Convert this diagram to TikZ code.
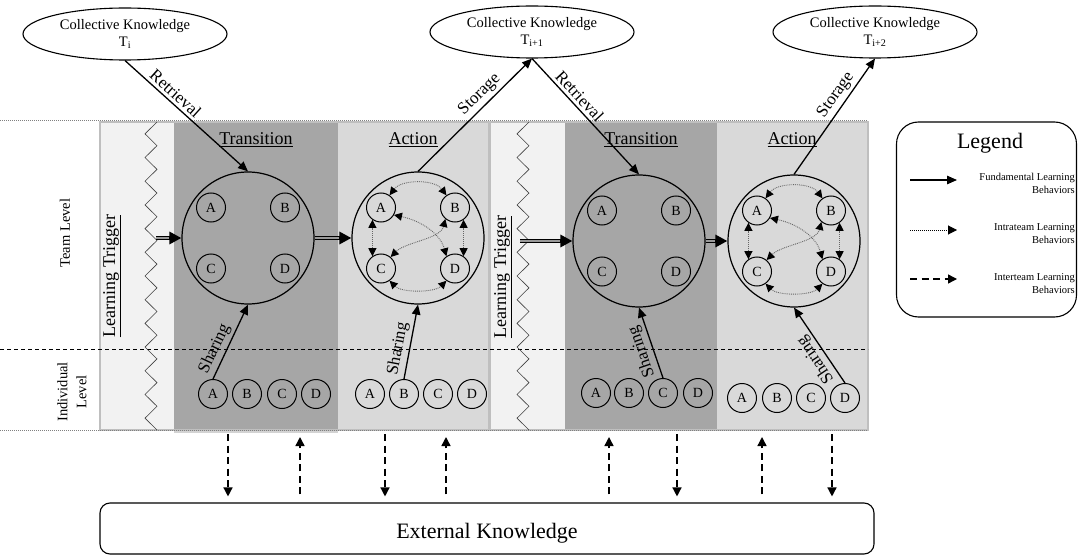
\documentclass[tikz,border=0pt]{standalone}
\usepackage{fontspec}
\setmainfont{Liberation Serif}
\usetikzlibrary{arrows.meta,shapes.geometric,shadows,calc}

\definecolor{trfill}{HTML}{A6A6A6}
\definecolor{acfill}{HTML}{D9D9D9}
\definecolor{ltfill}{HTML}{F2F2F2}
\definecolor{framegray}{HTML}{BFBFBF}

\begin{document}
\begin{tikzpicture}[x=1pt,y=1pt,
  every node/.style={inner sep=0pt},
  ellnode/.style={draw, ellipse, line width=1.1pt, minimum width=204pt, minimum height=52pt,
    align=center, font=\fontsize{14.5}{17}\selectfont},
  bigc/.style={draw, circle, line width=1.2pt, minimum size=132pt},
  smc/.style={draw, circle, line width=1pt, minimum size=29pt, font=\fontsize{14}{16}\selectfont},
  head/.style={font=\fontsize{18}{20}\selectfont},
  side/.style={font=\fontsize{14.5}{19}\selectfont, align=center, rotate=90},
  fund/.style={line width=1.3pt, -{Triangle[length=10pt,width=8.5pt]}},
  lbl/.style={font=\fontsize{17}{19}\selectfont, sloped, inner sep=3pt},
  intra/.style={draw=black!60, densely dotted, line width=0.9pt,
    {Triangle[length=8pt,width=8pt,color=black]}-{Triangle[length=8pt,width=8pt,color=black]}},
  inter/.style={line width=1.4pt, dash pattern=on 7pt off 4.5pt, -{Triangle[length=9pt,width=9pt]}},
  trigout/.style={line width=4pt, -{Triangle[length=12pt,width=12pt]}},
  trigin/.style={line width=1.6pt, draw=black!40, shorten >=12pt},
  zig/.style={black!75, line width=0.6pt},
  legtxt/.style={font=\fontsize{10.5}{13.5}\selectfont, align=right, anchor=north east},
]
\useasboundingbox (0,0) rectangle (1078,-556);

% ---------- phase panels ----------
\fill[ltfill] (100,-122) rectangle (175,-430);
\fill[acfill] (338,-122) rectangle (488,-430);
\fill[trfill, drop shadow={shadow xshift=0pt, shadow yshift=-2.5pt, opacity=0.35}]
  (174,-122) rectangle (338,-430);
\fill[framegray] (488,-122) rectangle (491,-430);
\fill[ltfill] (491,-122) rectangle (565,-430);
\fill[trfill] (565,-122) rectangle (717,-430);
\fill[acfill] (717,-122) rectangle (868,-430);
\draw[framegray, line width=1.5pt] (100,-122) rectangle (868,-430);

% level separators
\draw[gray, densely dotted, line width=1pt] (0,-121) -- (868,-121);
\draw[gray, densely dotted, line width=1pt] (0,-430.5) -- (868,-430.5);
\draw[line width=0.8pt, dash pattern=on 4pt off 3pt] (0,-349) -- (868,-349);

% trigger zigzags
\draw[zig] (157,-122) \foreach \k in {1,...,26}{ -- ({157-12*isodd(\k)},{-122-\k*11.846}) };
\draw[zig] (529,-122) \foreach \k in {1,...,26}{ -- ({529-12*isodd(\k)},{-122-\k*11.846}) };

% ---------- side labels and headings ----------
\node[side] (team) at (65,-233) {Team Level};
\node[side] (indiv) at (72,-392) {Individual\\Level};
\node[head, rotate=90] (lt1lbl) at (112,-276) {\underline{Learning Trigger}};
\node[head, rotate=90] (lt2lbl) at (503,-277) {\underline{Learning Trigger}};
\node[head] (h1) at (256,-140) {\underline{Transition}};
\node[head] (h2) at (413,-140) {\underline{Action}};
\node[head] (h3) at (641,-140) {\underline{Transition}};
\node[head] (h4) at (792,-140) {\underline{Action}};

% ---------- collective knowledge ----------
\node[ellnode] (ck1) at (125,-34) {Collective Knowledge\\T\textsubscript{i}};
\node[ellnode] (ck2) at (532,-32) {Collective Knowledge\\T\textsubscript{i+1}};
\node[ellnode] (ck3) at (875,-32) {Collective Knowledge\\T\textsubscript{i+2}};

% ---------- team circles ----------
\node[bigc] (t1) at (248,-238) {};
\node[bigc] (a1) at (418,-238) {};
\node[bigc] (t2) at (639,-241) {};
\node[bigc] (a2) at (794,-241) {};
\foreach \cc in {t1,a1,t2,a2} {
  \node[smc] (\cc A) at ($(\cc)+(-37,30.5)$) {A};
  \node[smc] (\cc B) at ($(\cc)+(37,30.5)$) {B};
  \node[smc] (\cc C) at ($(\cc)+(-37,-30.5)$) {C};
  \node[smc] (\cc D) at ($(\cc)+(37,-30.5)$) {D};
}

% intrateam exchanges inside the action circles
\foreach \cc in {a1,a2} {
  \draw[intra] (\cc A.55) .. controls +(12,16) and +(-12,16) .. (\cc B.125);
  \draw[intra] (\cc A.235) -- (\cc C.125);
  \draw[intra] (\cc B.-55) -- (\cc D.55);
  \draw[intra] (\cc C.-55) .. controls +(12,-12) and +(-12,-12) .. (\cc D.235);
  \draw[intra] (\cc A.-30) .. controls +(28,-6) and +(-6,22) .. (\cc D.125);
  \draw[intra] (\cc B.-130) .. controls +(-5,-20) and +(15,15) .. (\cc C.50);
}

% ---------- individual members ----------
\foreach \n/\x in {A/213,B/247,C/282,D/316} \node[smc] (it1\n) at (\x,-394) {\n};
\foreach \n/\x in {A/370,B/404,C/438,D/472} \node[smc] (ia1\n) at (\x,-394) {\n};
\foreach \n/\x in {A/596,B/629,C/663,D/698} \node[smc] (it2\n) at (\x,-393) {\n};
\foreach \n/\x in {A/742,B/777,C/811,D/845} \node[smc] (ia2\n) at (\x,-398) {\n};

% ---------- fundamental learning behaviours ----------
\draw[fund] (ck1.south) -- node[lbl, above, pos=0.36] {Retrieval} (t1.north);
\draw[fund] (a1.north) -- node[lbl, above, pos=0.61] {Storage} (ck2.south);
\draw[fund] (ck2.south) -- node[lbl, above, pos=0.38] {Retrieval} (t2.north);
\draw[fund] (a2.north) -- node[lbl, above, pos=0.63] {Storage} (ck3.south);
\draw[fund] (it1A.north) -- node[lbl, above, pos=0.34] {Sharing} (t1.south);
\draw[fund] (ia1B.north) -- node[lbl, above, pos=0.38] {Sharing} (a1.south);
\draw[fund] (it2C.north) -- node[lbl, above, allow upside down, pos=0.43] {Sharing} (t2.south);
\draw[fund] (ia2D.north) -- node[lbl, above, allow upside down, pos=0.39] {Sharing} (a2.south);

% ---------- phase transitions (double arrows) ----------
\coordinate (lt1) at (156,-238);
\coordinate (lt2) at (520,-241);
\draw[trigout] (lt1) -- (t1.west);   \draw[trigin] (lt1) -- (t1.west);
\draw[trigout] (t1.east) -- (a1.west); \draw[trigin] (t1.east) -- (a1.west);
\draw[trigout] (lt2) -- (t2.west);   \draw[trigin] (lt2) -- (t2.west);
\draw[trigout] (t2.east) -- (a2.west); \draw[trigin] (t2.east) -- (a2.west);

% ---------- external knowledge ----------
\node[draw, rounded corners=10pt, line width=1.1pt, minimum width=774pt, minimum height=51pt]
  (ext) at (487,-528.5) {};
\node[font=\fontsize{22}{24}\selectfont] (extlbl) at (487,-533) {External Knowledge};

\foreach \x in {228,385,677,832} {
  \coordinate (dn\x) at (\x,-434);
  \draw[inter, shorten >=6pt] (dn\x) -- (dn\x |- ext.north);
}
\foreach \x in {300,446,609,762} {
  \coordinate (up\x) at (\x,-437);
  \draw[inter, shorten <=8pt] (up\x |- ext.north) -- (up\x);
}

% ---------- legend ----------
\node[draw, rounded corners=22pt, line width=1.1pt, minimum width=180pt, minimum height=195pt]
  (leg) at (986.5,-219.5) {};
\node[font=\fontsize{22}{24}\selectfont] (legt) at (990,-143) {Legend};
\coordinate (lg1s) at (910,-180); \coordinate (lg1e) at (957,-180);
\coordinate (lg2s) at (910,-230); \coordinate (lg2e) at (957,-230);
\coordinate (lg3s) at (910,-279); \coordinate (lg3e) at (957,-279);
\draw[fund] (lg1s) -- (lg1e);
\draw[densely dotted, line width=1pt, -{Triangle[length=9pt,width=9pt]}] (lg2s) -- (lg2e);
\draw[inter] (lg3s) -- (lg3e);
\node[legtxt] (lt1txt) at (1075,-173) {Fundamental Learning\\Behaviors};
\node[legtxt] (lt2txt) at (1075,-223) {Intrateam Learning\\Behaviors};
\node[legtxt] (lt3txt) at (1075,-273) {Interteam Learning\\Behaviors};
\end{tikzpicture}
\end{document}
